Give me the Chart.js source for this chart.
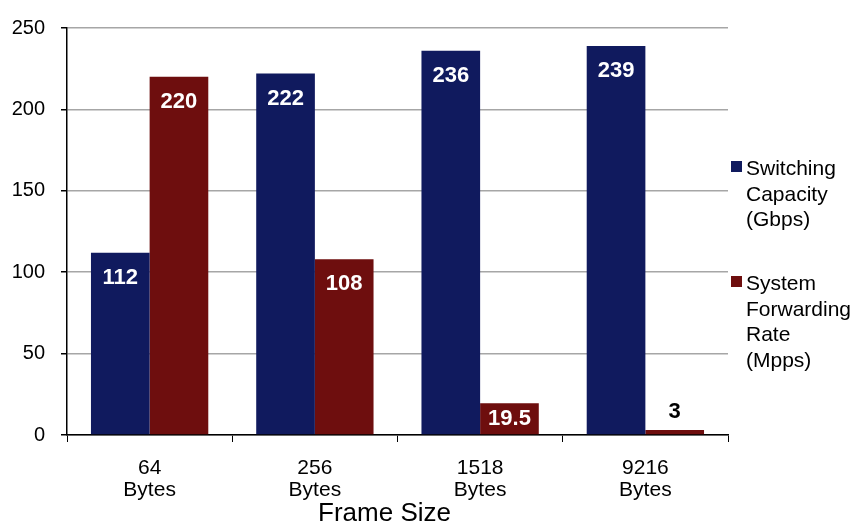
<!DOCTYPE html>
<html>
<head>
<meta charset="utf-8">
<script src="https://cdn.jsdelivr.net/npm/chart.js@4/dist/chart.umd.min.js"></script>
<style>
  body { margin: 0; background: #fff; font-family: "Liberation Sans", Arial, sans-serif; }
  .wrap { position: relative; width: 856px; height: 527px; }
  .legend-item { position: absolute; left: 731px; font-size: 21px; line-height: 25.5px; color: #000; }
  .legend-item span.box { position: absolute; left: 0; top: 6px; width: 11px; height: 11px; }
  .legend-item div { margin-left: 15px; }
</style>
</head>
<body>
<div class="wrap">
  <canvas id="js-frame-chart"></canvas>
  <div class="legend-item" style="top:155px"><span class="box" style="background:#101a5e"></span><div>Switching<br>Capacity<br>(Gbps)</div></div>
  <div class="legend-item" style="top:270px"><span class="box" style="background:#6e0e0e"></span><div>System<br>Forwarding<br>Rate<br>(Mpps)</div></div>
</div>
<script>
const frameCanvas = document.querySelector('#js-frame-chart');

const frameLabels = [['64', 'Bytes'], ['256', 'Bytes'], ['1518', 'Bytes'], ['9216', 'Bytes']];
const switchingCapacity = [112, 222, 236, 239];
const forwardingRate = [220, 108, 19.5, 3];
const yTicks = [0, 50, 100, 150, 200, 250];

// value labels: inside the top of tall bars, centred in short ones, above tiny ones
const barLabels = {
  id: 'barLabels',
  afterDatasetsDraw(chart) {
    const ctx = chart.ctx;
    ctx.save();
    ctx.font = 'bold 22px "Liberation Sans", Arial, sans-serif';
    ctx.textAlign = 'center';
    ctx.textBaseline = 'middle';
    chart.data.datasets.forEach((ds, i) => {
      chart.getDatasetMeta(i).data.forEach((bar, j) => {
        const h = bar.base - bar.y;
        let y;
        if (h > 50) {
          ctx.fillStyle = '#fff';
          y = bar.y + 25;
        } else if (h > 24) {
          ctx.fillStyle = '#fff';
          y = bar.y + h / 2;
        } else {
          ctx.fillStyle = '#000';
          y = bar.y - 18;
        }
        ctx.fillText(String(ds.data[j]), bar.x, y);
      });
    });
    ctx.restore();
  }
};

const axisTitle = {
  id: 'axisTitle',
  afterDraw(chart) {
    const ctx = chart.ctx;
    const area = chart.chartArea;
    ctx.save();
    ctx.font = '26px "Liberation Sans", Arial, sans-serif';
    ctx.fillStyle = '#000';
    ctx.textAlign = 'center';
    ctx.textBaseline = 'middle';
    ctx.fillText('Frame Size', (area.left + area.right) / 2 - 13, 514);
    ctx.restore();
  }
};

const frameData = {
  labels: frameLabels,
  datasets: [{
    label: 'Switching Capacity (Gbps)',
    data: switchingCapacity,
    backgroundColor: '#101a5e',
    categoryPercentage: 0.71,
    barPercentage: 1
  }, {
    label: 'System Forwarding Rate (Mpps)',
    data: forwardingRate,
    backgroundColor: '#6e0e0e',
    categoryPercentage: 0.71,
    barPercentage: 1
  }]
};

const frameConfig = {
  type: 'bar',
  data: frameData,
  plugins: [barLabels, axisTitle],
  options: {
    responsive: true,
    maintainAspectRatio: false,
    animation: false,
    layout: {
      padding: { left: 0, right: 128, top: 22, bottom: 0 }
    },
    scales: {
      x: {
        afterFit(scale) { scale.height = 92; },
        grid: {
          display: true,
          drawOnChartArea: false,
          tickLength: 7,
          tickColor: '#000',
          offset: true
        },
        border: { color: '#000', width: 1.5 },
        ticks: {
          color: '#000',
          padding: 15,
          font: { family: '"Liberation Sans", Arial, sans-serif', size: 21, lineHeight: 1.05 }
        }
      },
      y: {
        min: 0,
        max: 250,
        afterFit(scale) { scale.width = 67; },
        afterBuildTicks(scale) { scale.ticks = yTicks.map(v => ({ value: v })); },
        grid: {
          color: '#a6a6a6',
          lineWidth: 1.5,
          tickLength: 6,
          tickColor: '#000'
        },
        border: { color: '#000', width: 1.5 },
        ticks: {
          color: '#000',
          padding: 16,
          font: { family: '"Liberation Sans", Arial, sans-serif', size: 20 }
        }
      }
    },
    plugins: {
      legend: { display: false },
      tooltip: { enabled: false }
    }
  }
};

new Chart(frameCanvas, frameConfig);
</script>
</body>
</html>
